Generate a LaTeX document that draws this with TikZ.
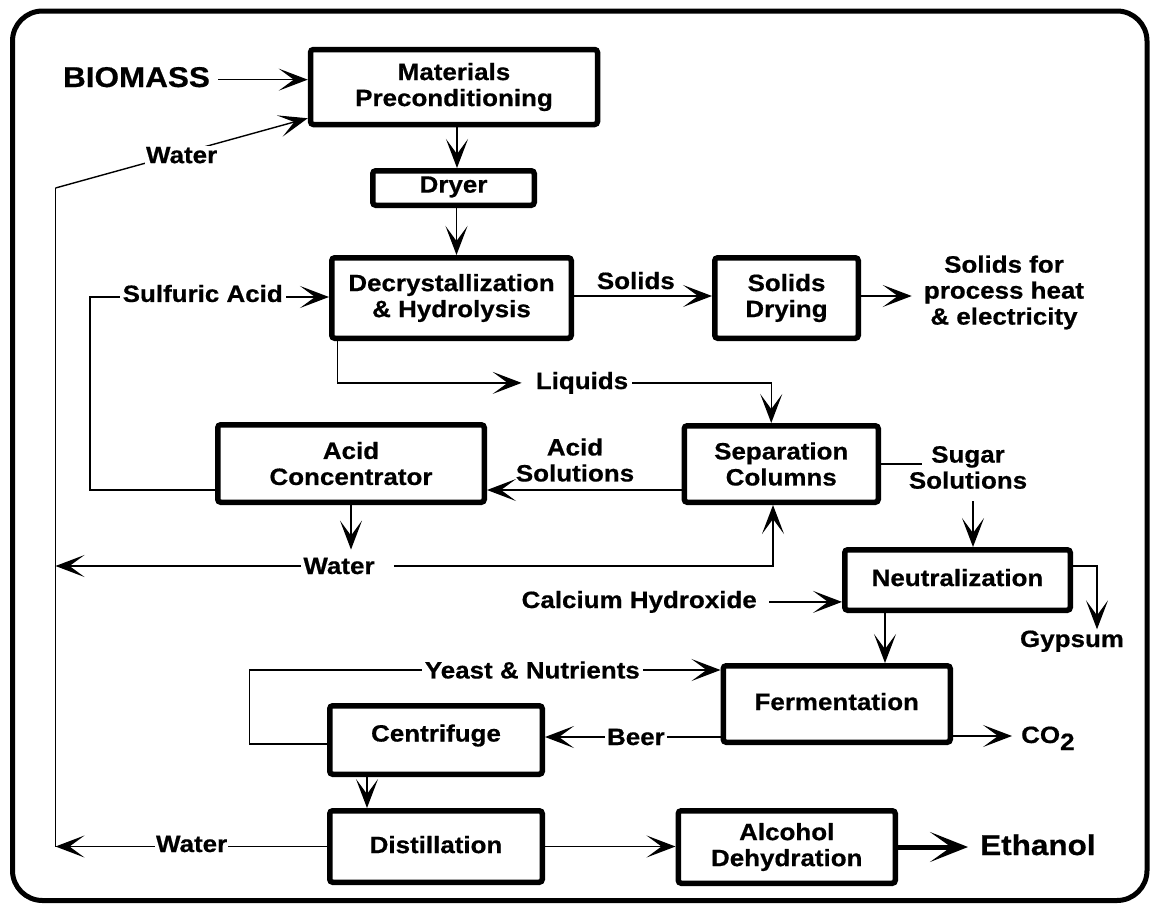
\documentclass[tikz,border=0pt]{standalone}
\usepackage{fontspec}
\newfontfamily\diafont{Liberation Sans}[FakeStretch=1.1, BoldFeatures={FakeBold=0.6}]
\usetikzlibrary{arrows.meta,calc}
\newcommand\lblfont{\diafont\bfseries\fontsize{23.6pt}{26pt}\selectfont}
\newcommand\bigfont{\diafont\bfseries\fontsize{28.6pt}{32pt}\selectfont}

\begin{document}
\begin{tikzpicture}[x=1pt,y=-1pt,
  proc/.style={draw, line width=5.5pt, rounded corners=3pt, align=center, inner sep=0pt, font=\lblfont},
  txt/.style={font=\lblfont, inner sep=1pt, align=center},
  onwire/.style={txt, fill=white, inner xsep=3pt},
  wire/.style={line width=1.4pt},
  flow/.style={wire, -{Stealth[length=29pt,width=22pt,inset=15pt]}},
  bigflow/.style={line width=5pt, -{Stealth[length=38pt,width=30pt,inset=21pt]}},
]
\useasboundingbox (0,0) rectangle (1151,905);
\draw[line width=5pt, rounded corners=30pt] (12.5,11) rectangle (1147,900.5);

% process units
\node[proc, minimum width=287pt, minimum height=75pt] (mat) at (454,87) {Materials\\Preconditioning};
\node[proc, minimum width=161.5pt, minimum height=34.5pt, text depth=7pt] (dry) at (453.5,188) {Dryer};
\node[proc, minimum width=239.5pt, minimum height=80.5pt] (dec) at (451.5,298) {Decrystallization\\\& Hydrolysis};
\node[proc, minimum width=143.5pt, minimum height=80.5pt] (sdry) at (786.5,298) {Solids\\Drying};
\node[proc, minimum width=266.5pt, minimum height=77.5pt] (acid) at (351,463.5) {Acid\\Concentrator};
\node[proc, minimum width=194pt, minimum height=76.5pt] (sep) at (781.25,464) {Separation\\Columns};
\node[proc, minimum width=225.5pt, minimum height=60.5pt, text depth=5pt] (neu) at (957.5,580) {Neutralization};
\node[proc, minimum width=227pt, minimum height=76.5pt, text depth=5pt] (fer) at (836.75,704) {Fermentation};
\node[proc, minimum width=212.5pt, minimum height=68.5pt, text depth=14pt] (cen) at (436,740) {Centrifuge};
\node[proc, minimum width=212.5pt, minimum height=71.5pt, text depth=4pt] (dis) at (436,846.5) {Distillation};
\node[proc, minimum width=217pt, minimum height=72.5pt] (alc) at (786.75,847) {Alcohol\\Dehydration};

% free-standing stream names
\node[txt, font=\bigfont, anchor=base] (biomass) at (136.5,87) {BIOMASS};
\node[txt] (sfp) at (1004,292.5) {Solids for\\process heat\\\& electricity};
\node[txt, anchor=base] (liq) at (582,389) {Liquids};
\node[txt] (acsol) at (575,460) {Acid\\Solutions};
\node[txt, anchor=base] (wmid) at (339,574) {Water};
\node[txt] (sugar) at (968,467.5) {Sugar\\Solutions};
\node[txt, anchor=base east] (cah) at (758,608) {Calcium Hydroxide};
\node[txt, anchor=base] (gyp) at (1072,647) {Gypsum};
\node[txt, anchor=base west] (co2) at (1020,743) {CO\raisebox{-7pt}{2}};
\node[txt, font=\bigfont, anchor=base west] (eth) at (979,855) {Ethanol};

% water return header on the left
\coordinate (wtop) at (55.5,188);
\coordinate (wbot) at (55.5,846.5);
\draw[wire] (wtop) -- (wbot);
\draw[flow] (wtop) -- node[onwire, inner xsep=1pt, yshift=-2pt]{Water} ($(mat.south west)+(0,-9)$);

% feed and main line
\draw[flow, shorten <=7pt] ($(biomass.east)+(0,2.5)$) -- ($(biomass.east -| mat.west)+(0,2.5)$);
\coordinate (md) at ($(mat.south)+(3,0)$);
\draw[flow] (md) -- (md |- dry.north);
\coordinate (dd) at ($(dry.south)+(3,0)$);
\draw[flow] (dd) -- (dd |- dec.north);

% acid recycle
\coordinate (sk) at (90,297);
\draw[flow] ($(acid.west)+(0,26.5)$) -| (sk) -- node[onwire, pos=0.4716, yshift=3.5pt]{Sulfuric Acid} ($(dec.west)+(0,-1)$);

% solids
\draw[flow] ($(dec.east)+(0,-2)$) -- node[txt, pos=0.448, anchor=base, yshift=7pt]{Solids} ($(sdry.west)+(0,-2)$);
\draw[flow, shorten >=11pt] ($(sdry.east)+(0,-2)$) -- ($(sdry.east -| sfp.west)+(0,-2)$);

% liquids to separation
\draw[flow, shorten >=13pt] ($(dec.south west)+(8.5,0)$) |- (liq.west);
\draw[flow, shorten <=3pt] (liq.east) -| ($(sep.north)+(-10,0)$);
\draw[flow] ($(sep.west)+(0,26)$) -- ($(acid.east)+(0,26.5)$);

% water from the acid concentrator
\draw[flow, shorten >=7pt] (acid.south) -- (acid.south |- wmid.north);
\draw[flow, shorten <=1pt] (wmid.west) -- (wmid.west -| wbot);
\draw[flow, shorten <=18pt] (wmid.east) -| ($(sep.south)+(-8.25,0)$);

% sugar line
\draw[wire] (sep.east) -- ($(sugar.west |- sep.east)+(14,0)$);
\coordinate (sg) at ($(sugar.south)+(5,0)$);
\draw[flow, shorten <=11pt] (sg) -- (sg |- neu.north);
\draw[flow, shorten <=11pt] (cah.east) -- (cah.east -| neu.west);
\draw[flow] ($(neu.east)+(0,-14)$) -| ($(gyp.north)+(25,0)$);
\coordinate (nf) at ($(neu.south)+(-72.5,0)$);
\draw[flow] (nf) -- (nf |- fer.north);

% fermentation and yeast recycle
\coordinate (yk) at (249.5,670);
\draw[flow] ($(cen.west)+(0,4)$) -| (yk) -- node[onwire, pos=0.6005]{Yeast \& Nutrients} ($(fer.west)+(0,-34)$);
\draw[flow] ($(fer.west)+(0,33)$) -- node[onwire, pos=0.482, inner xsep=2pt]{Beer} ($(cen.east)+(0,-3)$);
\draw[flow, shorten >=8pt] ($(fer.east)+(0,32)$) -- ($(co2.west |- fer.east)+(0,32)$);

% distillation and product
\coordinate (cd) at ($(cen.south)+(-69,0)$);
\draw[flow] (cd) -- (cd |- dis.north);
\draw[flow] (dis.west) -- node[onwire, pos=0.4986, inner xsep=1pt, yshift=2.5pt]{Water} (wbot);
\draw[flow] (dis.east) -- (dis.east -| alc.west);
\draw[bigflow, shorten >=11pt] (alc.east) -- (alc.east -| eth.west);
\end{tikzpicture}
\end{document}
